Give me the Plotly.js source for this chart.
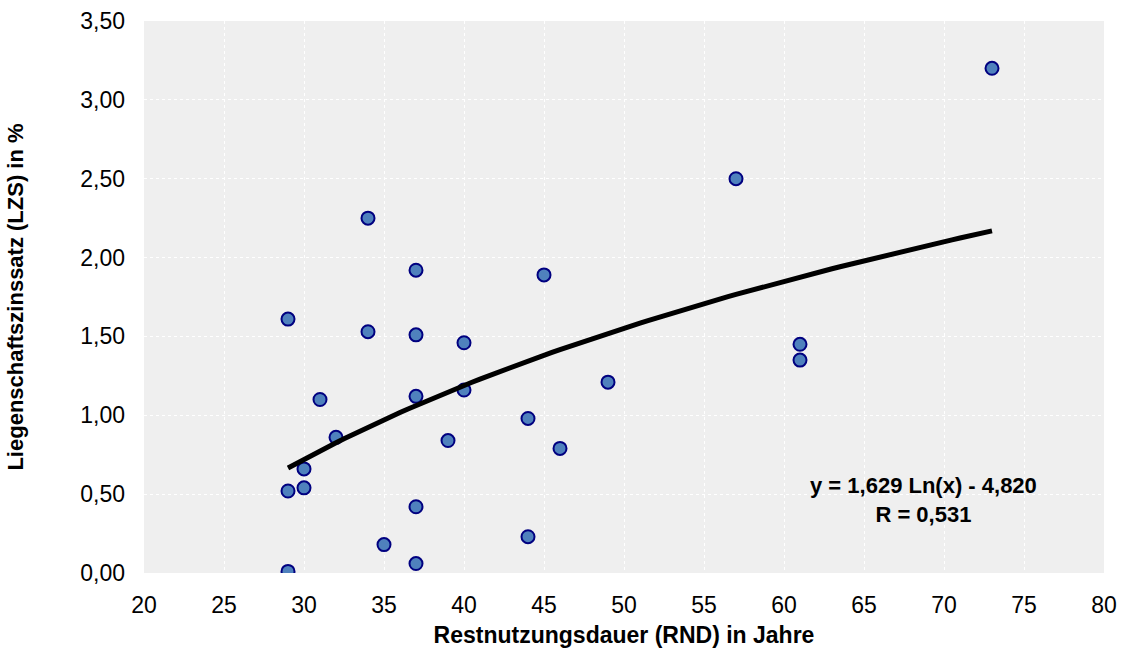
<!DOCTYPE html>
<html>
<head>
<meta charset="utf-8">
<script src="https://cdn.plot.ly/plotly-3.0.1.min.js"></script>
<style>html,body{margin:0;padding:0;background:#fff;}#chart{width:1122px;height:652px;}</style>
</head>
<body>
<div id="chart"></div>
<script>
// Observed data: Restnutzungsdauer (RND) in Jahre vs. Liegenschaftszinssatz (LZS) in %
const rnd = [29, 29, 29, 30, 30, 31, 32, 34, 34, 35, 37, 37, 37, 37, 37, 39, 40, 40, 44, 44, 45, 46, 49, 57, 61, 61, 73];
const lzs = [0.01, 0.52, 1.61, 0.66, 0.54, 1.10, 0.86, 2.25, 1.53, 0.18, 1.92, 1.51, 1.12, 0.42, 0.06, 0.84, 1.46, 1.16, 0.98, 0.23, 1.89, 0.79, 1.21, 2.50, 1.45, 1.35, 3.20];

// Logarithmic trendline as printed on the chart: y = 1,629 Ln(x) - 4,820
const trendA = 1.629;
const trendB = -4.820;
const trendXmin = 29;
const trendXmax = 73;
const trendLabel = 'y = 1,629 Ln(x) - 4,820<br>R = 0,531';

const xTicks = [20, 25, 30, 35, 40, 45, 50, 55, 60, 65, 70, 75, 80];
const yTicks = [0, 0.5, 1, 1.5, 2, 2.5, 3, 3.5];
const fmt = v => v.toFixed(2).replace('.', ',');

const trendX = [];
for (let x = trendXmin; x <= trendXmax; x += 0.5) trendX.push(x);
const trendY = trendX.map(x => trendA * Math.log(x) + trendB);

const font = 'Arial, "Liberation Sans", sans-serif';

Plotly.newPlot('chart', [
  {
    x: rnd, y: lzs, type: 'scatter', mode: 'markers',
    marker: {size: 13, color: '#4f81bd', line: {color: '#000080', width: 2}},
    hoverinfo: 'x+y', showlegend: false
  },
  {
    x: trendX, y: trendY, type: 'scatter', mode: 'lines',
    line: {color: '#000000', width: 5}, showlegend: false, hoverinfo: 'skip'
  }
], {
  width: 1122, height: 652,
  margin: {l: 144, r: 18, t: 21, b: 79},
  paper_bgcolor: '#ffffff',
  plot_bgcolor: '#efefef',
  font: {family: font, size: 23, color: '#000'},
  xaxis: {
    range: [20, 80], tickvals: xTicks, ticktext: xTicks.map(String),
    showgrid: true, gridcolor: '#ffffff', griddash: 'dot', gridwidth: 1,
    zeroline: false, showline: false, ticks: '', ticklabelstandoff: 16,
    tickfont: {family: font, size: 23, color: '#000'},
    title: {text: '<b>Restnutzungsdauer (RND) in Jahre</b>', font: {family: font, size: 23, color: '#000'}, standoff: 9}
  },
  yaxis: {
    range: [0, 3.5], tickvals: yTicks, ticktext: yTicks.map(fmt),
    showgrid: true, gridcolor: '#ffffff', griddash: 'dot', gridwidth: 1,
    zeroline: false, showline: false, ticks: '', ticklabelstandoff: 18,
    tickfont: {family: font, size: 23, color: '#000'},
    title: {text: '<b>Liegenschaftszinssatz (LZS) in %</b>', font: {family: font, size: 22, color: '#000'}, standoff: 50}
  },
  annotations: [{
    text: '<b>' + trendLabel + '</b>', x: 68.7, y: 0.46, xref: 'x', yref: 'y',
    showarrow: false, align: 'center', font: {family: font, size: 22, color: '#000'}
  }]
}, {displayModeBar: false, staticPlot: true});
</script>
</body>
</html>
